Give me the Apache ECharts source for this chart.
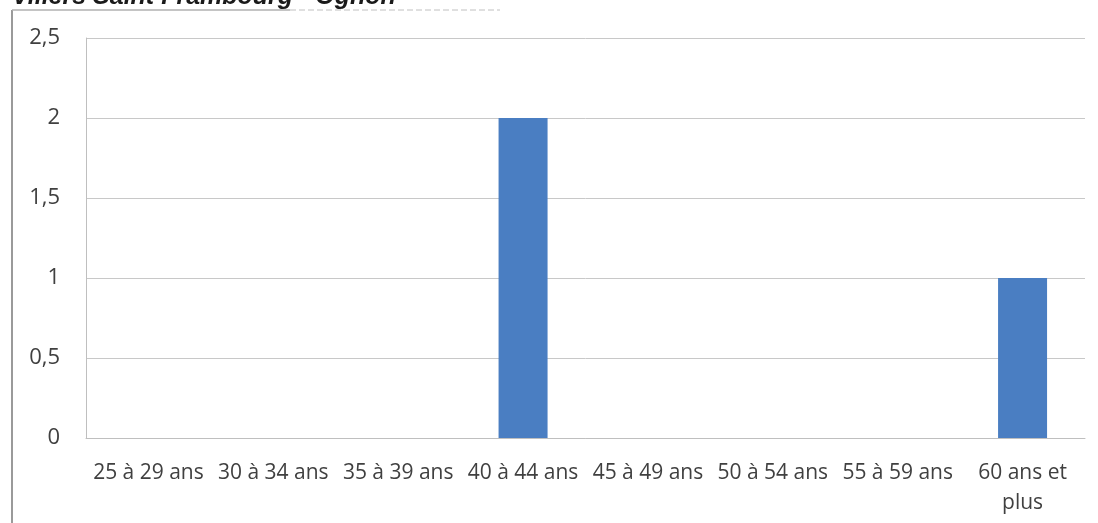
<!DOCTYPE html>
<html>
<head>
<meta charset="utf-8">
<script src="https://cdn.jsdelivr.net/npm/echarts@6/dist/echarts.min.js"></script>
<style>
html,body{margin:0;padding:0;background:#fff;}
#chart{width:1098px;height:523px;}
</style>
</head>
<body>
<div id="chart"></div>
<script>
const titleText = 'Villers Saint Frambourg - Ognon';
const categories = ['25 à 29 ans', '30 à 34 ans', '35 à 39 ans', '40 à 44 ans', '45 à 49 ans', '50 à 54 ans', '55 à 59 ans', '60 ans et\nplus'];
const values = [0, 0, 0, 2, 0, 0, 0, 1];
const yMin = 0, yMax = 2.5, yStep = 0.5;

const chart = echarts.init(document.getElementById('chart'));
chart.setOption({
  animation: false,
  backgroundColor: '#ffffff',
  grid: { left: 86, right: 13, top: 38, bottom: 85 },
  xAxis: {
    type: 'category',
    data: categories,
    axisLine: { show: true, lineStyle: { color: '#bfbfbf', width: 1 } },
    axisTick: { show: false },
    axisLabel: {
      interval: 0,
      color: '#404040',
      fontFamily: 'Open Sans',
      fontSize: 21,
      lineHeight: 30,
      margin: 20
    }
  },
  yAxis: {
    type: 'value',
    min: yMin, max: yMax, interval: yStep,
    axisLine: { show: true, lineStyle: { color: '#bfbfbf', width: 1 } },
    axisTick: { show: false },
    splitLine: { show: true, lineStyle: { color: '#c8c8c8', width: 1 } },
    axisLabel: {
      color: '#404040',
      fontFamily: 'Open Sans',
      fontSize: 22,
      margin: 26,
      formatter: v => String(v).replace('.', ',')
    }
  },
  series: [{
    type: 'bar',
    data: values,
    barWidth: 49,
    itemStyle: { color: '#4a7ec2' }
  }],
  graphic: [
    { type: 'line', shape: { x1: 12, y1: 10, x2: 12, y2: 523 }, style: { stroke: '#9a9a9a', lineWidth: 2 } },
    { type: 'line', shape: { x1: 12, y1: 10, x2: 290, y2: 10 }, style: { stroke: '#b0b0b0', lineWidth: 1.5 } },
    { type: 'line', shape: { x1: 290, y1: 10, x2: 500, y2: 10 }, style: { stroke: '#c0c0c0', lineWidth: 1, lineDash: [6, 3] } },
    { type: 'text', left: 12, top: -15,
      style: { text: titleText, font: 'italic bold 25px "Liberation Sans", Arial, sans-serif', fill: '#1a1a1a' } }
  ]
});
</script>
</body>
</html>
